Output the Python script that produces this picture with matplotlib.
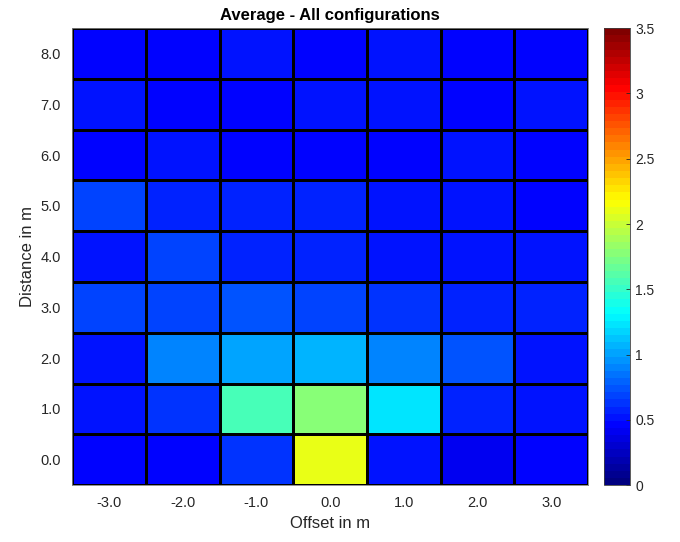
import numpy as np
import matplotlib
matplotlib.use('Agg')
import matplotlib.pyplot as plt
from matplotlib.colors import LinearSegmentedColormap

offsets = [-3.0, -2.0, -1.0, 0.0, 1.0, 2.0, 3.0]
distances = [0.0, 1.0, 2.0, 3.0, 4.0, 5.0, 6.0, 7.0, 8.0]

# rows = distance 0..8, columns = offset -3..3
row_d0 = [0.47, 0.49, 0.63, 2.08, 0.51, 0.43, 0.45]
row_d1 = [0.51, 0.63, 1.55, 1.79, 1.21, 0.58, 0.52]
row_d2 = [0.53, 0.88, 1.02, 1.07, 0.88, 0.74, 0.53]
row_d3 = [0.66, 0.66, 0.74, 0.68, 0.65, 0.60, 0.60]
row_d4 = [0.53, 0.68, 0.60, 0.60, 0.51, 0.52, 0.51]
row_d5 = [0.66, 0.60, 0.60, 0.60, 0.51, 0.51, 0.49]
row_d6 = [0.49, 0.51, 0.49, 0.49, 0.45, 0.50, 0.49]
row_d7 = [0.51, 0.45, 0.49, 0.51, 0.52, 0.46, 0.51]
row_d8 = [0.46, 0.44, 0.54, 0.47, 0.52, 0.47, 0.49]

values = np.array([row_d0, row_d1, row_d2, row_d3, row_d4,
                   row_d5, row_d6, row_d7, row_d8])

# matlab style jet, 64 levels
jet_m = LinearSegmentedColormap.from_list('jet_m', [
    (0.0, (0, 0, 0.5)), (1/8, (0, 0, 1)), (3/8, (0, 1, 1)),
    (5/8, (1, 1, 0)), (7/8, (1, 0, 0)), (1.0, (0.5, 0, 0))], N=64)

plt.rcParams['font.family'] = ['Liberation Sans', 'DejaVu Sans']

fig = plt.figure(figsize=(6.8, 5.42), dpi=100)
ax = fig.add_axes([0.106, 0.105, 0.759, 0.843])
cax = fig.add_axes([0.888, 0.105, 0.038, 0.843])

x_edges = np.arange(len(offsets) + 1) - 0.5
y_edges = np.arange(len(distances) + 1) - 0.5
mesh = ax.pcolormesh(x_edges, y_edges, values, cmap=jet_m, vmin=0, vmax=3.5,
                     edgecolors='black', linewidth=0.75)

ax.set_xticks(range(len(offsets)))
ax.set_xticklabels([f'{o:.1f}' for o in offsets])
ax.set_yticks(range(len(distances)))
ax.set_yticklabels([f'{d:.1f}' for d in distances])
ax.tick_params(length=0, labelsize=10.5, colors='#262626', pad=8)
ax.set_xlabel('Offset in m', fontsize=12, color='#262626')
ax.set_ylabel('Distance in m', fontsize=12, color='#262626')
ax.set_title('Average - All configurations', fontsize=12, fontweight='bold', pad=6)
for s in ax.spines.values():
    s.set_color('#808080')
    s.set_linewidth(0.6)

cb = fig.colorbar(mesh, cax=cax)
cb.set_ticks([0, 0.5, 1, 1.5, 2, 2.5, 3, 3.5])
cb.set_ticklabels(['0', '0.5', '1', '1.5', '2', '2.5', '3', '3.5'])
cb.ax.tick_params(direction='in', length=3, labelsize=10, colors='#262626', width=0.6, pad=4)
cb.outline.set_edgecolor('#404040')
cb.outline.set_linewidth(0.6)

plt.savefig('out.png', dpi=100)
plt.close()
